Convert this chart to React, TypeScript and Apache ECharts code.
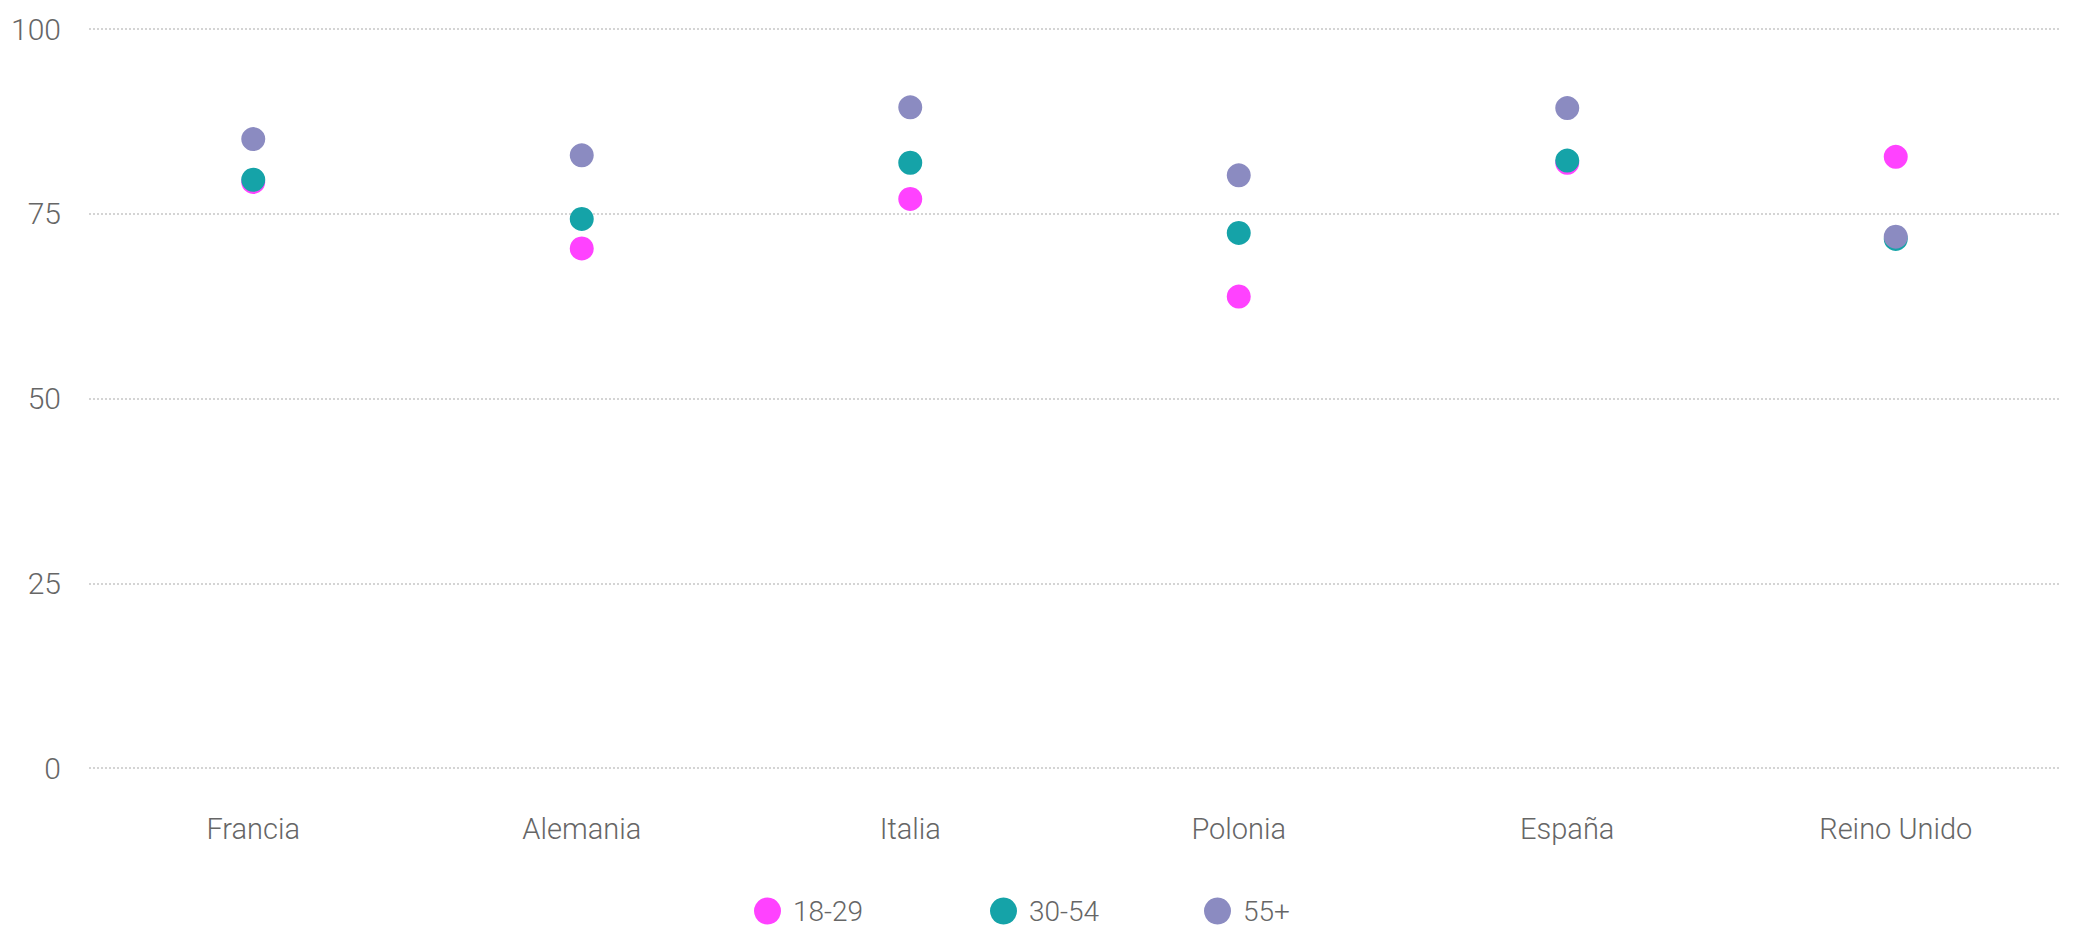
import React, { useEffect, useRef } from "react";
import * as echarts from "echarts";

const categories = ["Francia", "Alemania", "Italia", "Polonia", "España", "Reino Unido"];
const seriesNames = ["18-29", "30-54", "55+"];
const values1829 = [79.3, 70.3, 77.0, 63.8, 81.9, 82.7];
const values3054 = [79.6, 74.3, 81.9, 72.4, 82.2, 71.6];
const values55 = [85.1, 82.9, 89.4, 80.2, 89.3, 71.9];
const colors = ["#FF42FF", "#15A3A8", "#8B8BC1"];
const yTicks = { min: 0, max: 100, interval: 25 };

const FONT = "'Roboto Light', Roboto, 'Noto Sans', sans-serif";
const TEXT_COLOR = "#666666";

export default function App() {
  const ref = useRef<HTMLDivElement>(null);
  useEffect(() => {
    if (!ref.current) return;
    const chart = echarts.init(ref.current, undefined, { renderer: "svg" });
    const allValues = [values1829, values3054, values55];
    const legendLefts = [754, 990, 1204];
    chart.setOption({
      animation: false,
      grid: { left: 89, right: 14, top: 29, bottom: 169, containLabel: false },
      xAxis: {
        type: "category",
        data: categories,
        boundaryGap: true,
        axisLine: { show: false },
        axisTick: { show: false },
        splitLine: { show: false },
        axisLabel: {
          margin: 46,
          fontFamily: FONT,
          fontWeight: 300,
          fontSize: 29,
          color: TEXT_COLOR,
        },
      },
      yAxis: {
        type: "value",
        min: yTicks.min,
        max: yTicks.max,
        interval: yTicks.interval,
        axisLine: { show: false },
        axisTick: { show: false },
        splitLine: {
          show: true,
          lineStyle: { color: "#d4d4d4", width: 2, type: [2, 2] },
        },
        axisLabel: {
          margin: 28,
          fontFamily: FONT,
          fontWeight: 300,
          fontSize: 30,
          color: TEXT_COLOR,
        },
      },
      legend: seriesNames.map((n, i) => ({
        data: [n],
        left: legendLefts[i],
        top: 897,
        icon: "circle",
        itemWidth: 27,
        itemHeight: 27,
        padding: 0,
        textStyle: {
          fontFamily: FONT,
          fontWeight: 300,
          fontSize: 28,
          color: TEXT_COLOR,
          padding: [0, 0, 0, 7],
        },
      })),
      series: seriesNames.map((n, i) => ({
        name: n,
        type: "scatter",
        data: allValues[i],
        symbol: "circle",
        symbolSize: 24,
        itemStyle: { color: colors[i], opacity: 1 },
        emphasis: { disabled: true },
      })),
    });
    return () => chart.dispose();
  }, []);
  return (
    <div
      ref={ref}
      style={{ position: "absolute", left: 0, top: 0, width: 2074, height: 937 }}
    />
  );
}
